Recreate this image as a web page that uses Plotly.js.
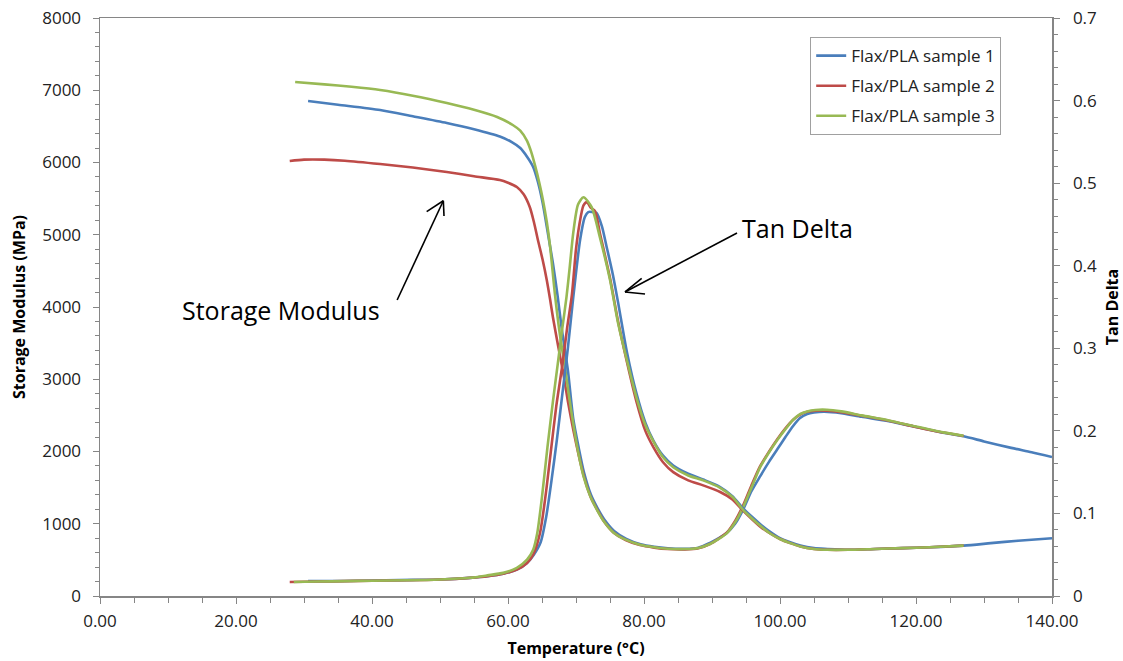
<!DOCTYPE html>
<html>
<head>
<meta charset="utf-8">
<script src="https://cdn.plot.ly/plotly-3.0.1.min.js"></script>
<style>
  html, body { margin: 0; padding: 0; background: #fff; }
  #chart { width: 1123px; height: 661px; }
</style>
</head>
<body>
<div id="chart"></div>
<script>
// ---------- DATA ----------
const seriesNames = ["Flax/PLA sample 1", "Flax/PLA sample 2", "Flax/PLA sample 3"];

// Storage modulus (MPa) — sample 1
const tempMod1 = [30.6, 35, 41.2, 46, 51, 55, 58.8, 60.5, 61.8, 62.8, 63.7, 64.4, 65.1, 65.9, 66.6, 67.3, 67.9, 68.8, 69.6, 70.4, 71.2, 72.2, 73.2, 74.3, 75.6, 77.4, 79.5, 81.5, 83.5, 86, 88, 89.7, 91, 92.2, 93.4, 94.6, 95.8, 97.1, 98.4, 99.6, 100.8, 101.9, 102.9, 104, 105, 106.5, 109, 112, 116, 120, 124, 127, 130, 134, 137, 140];
const mod1     = [6851, 6800, 6727, 6640, 6547, 6460, 6360, 6285, 6200, 6080, 5938, 5730, 5439, 5000, 4609, 4150, 3700, 3128, 2450, 2050, 1700, 1400, 1210, 1040, 900, 790, 715, 680, 660, 652, 668, 735, 800, 875, 1000, 1200, 1450, 1660, 1860, 2030, 2200, 2350, 2460, 2520, 2540, 2550, 2530, 2480, 2420, 2340, 2260, 2210, 2140, 2050, 1990, 1924];

// Storage modulus (MPa) — sample 2
const tempMod2 = [27.9, 30, 33, 36, 41.2, 46, 51, 55, 58.8, 60, 61.3, 62.3, 63.2, 63.8, 64.4, 65.1, 65.7, 66.2, 66.6, 67.4, 68.1, 68.8, 69.6, 70.4, 71.2, 72.2, 73.2, 74.2, 75.5, 77.3, 79.4, 81.5, 83.5, 86, 88, 89.7, 91, 92.2, 93.4, 94.6, 95.8, 97.1, 98.4, 99.6, 100.8, 101.9, 103, 104, 105.2, 106.9, 109, 112, 116, 120, 124, 127];
const mod2     = [6021, 6040, 6040, 6025, 5979, 5930, 5868, 5810, 5758, 5720, 5661, 5560, 5384, 5180, 4927, 4650, 4374, 4100, 3862, 3446, 3100, 2700, 2300, 1950, 1640, 1360, 1180, 1020, 880, 775, 705, 670, 650, 646, 662, 720, 795, 880, 1040, 1260, 1530, 1800, 2000, 2170, 2320, 2436, 2515, 2550, 2565, 2565, 2545, 2495, 2425, 2340, 2262, 2215];

// Storage modulus (MPa) — sample 3
const tempMod3 = [28.7, 33, 37, 41.2, 46, 51, 55, 58.4, 60.7, 61.8, 62.8, 63.4, 64.0, 64.6, 65.1, 65.7, 66.2, 66.9, 67.6, 68.4, 69.0, 69.6, 70.3, 71.1, 72.1, 73.1, 74.2, 75.5, 77.3, 79.4, 81.5, 83.5, 86, 88, 89.7, 91, 92.2, 93.4, 94.6, 95.8, 97.1, 98.4, 99.6, 100.8, 101.9, 103, 104, 105.2, 106.9, 109, 112, 116, 120, 124, 127];
const mod3     = [7114, 7082, 7048, 7003, 6925, 6824, 6730, 6630, 6519, 6440, 6300, 6150, 5950, 5720, 5500, 5180, 4830, 4180, 3640, 3150, 2750, 2380, 2000, 1660, 1380, 1190, 1020, 880, 780, 710, 675, 655, 650, 665, 720, 790, 870, 1020, 1232, 1500, 1786, 1990, 2159, 2310, 2436, 2520, 2555, 2575, 2578, 2555, 2500, 2430, 2345, 2265, 2218];

// Tan delta — sample 1
const tempTan1 = [30.6, 34, 38, 42, 46, 50, 54.4, 57, 59.3, 61.3, 62.8, 63.8, 64.8, 65.6, 66.4, 67.2, 68.0, 68.8, 69.6, 70.6, 71.3, 71.8, 72.4, 73.0, 73.8, 74.5, 75.4, 76.2, 77.5, 78.9, 80.2, 81.4, 82.8, 84.3, 86.5, 88.7, 91.2, 93, 94.6, 96, 97.1, 98.5, 100, 101.5, 103, 105, 107, 110, 114, 118, 122, 127, 131, 135, 140];
const tan1     = [0.018, 0.018, 0.0185, 0.019, 0.0195, 0.020, 0.022, 0.024, 0.027, 0.032, 0.040, 0.050, 0.065, 0.095, 0.14, 0.19, 0.245, 0.30, 0.362, 0.431, 0.459, 0.465, 0.465, 0.464, 0.448, 0.423, 0.39, 0.355, 0.295, 0.245, 0.210, 0.188, 0.170, 0.158, 0.148, 0.141, 0.132, 0.121, 0.106, 0.095, 0.087, 0.078, 0.070, 0.065, 0.061, 0.058, 0.057, 0.056, 0.057, 0.058, 0.059, 0.061, 0.064, 0.067, 0.070];

// Tan delta — sample 2
const tempTan2 = [27.9, 32, 36, 40, 45, 50, 54.4, 57, 59.3, 61.3, 62.8, 63.7, 64.7, 65.5, 66.3, 67.1, 68.0, 68.7, 69.4, 70.0, 70.5, 71.1, 71.6, 72.2, 72.8, 73.5, 75.0, 76.2, 77.5, 78.9, 80.2, 81.4, 82.8, 84.3, 86.5, 88.7, 91.2, 93, 94.6, 96, 97.1, 98.5, 100, 101.5, 103, 105, 107, 110, 114, 118, 122, 127];
const tan2     = [0.017, 0.0175, 0.018, 0.0185, 0.019, 0.020, 0.022, 0.024, 0.027, 0.032, 0.040, 0.050, 0.076, 0.12, 0.175, 0.23, 0.28, 0.325, 0.365, 0.42, 0.45, 0.473, 0.477, 0.470, 0.466, 0.440, 0.385, 0.332, 0.283, 0.235, 0.200, 0.180, 0.162, 0.150, 0.140, 0.134, 0.126, 0.117, 0.103, 0.092, 0.084, 0.076, 0.069, 0.064, 0.060, 0.057, 0.056, 0.056, 0.057, 0.058, 0.059, 0.061];

// Tan delta — sample 3
const tempTan3 = [28.5, 32, 36, 40, 45, 50, 54.4, 57, 59.3, 61.3, 62.8, 63.7, 64.3, 65.0, 65.8, 66.6, 67.3, 68.0, 68.6, 69.1, 69.6, 70.3, 71.1, 72.3, 73.5, 75.0, 76.2, 77.5, 78.9, 80.2, 81.4, 82.8, 84.3, 86.5, 88.7, 91.2, 93, 94.6, 96, 97.1, 98.5, 100, 101.5, 103, 105, 107, 110, 114, 118, 122, 127];
const tan3     = [0.017, 0.0175, 0.018, 0.0185, 0.019, 0.020, 0.022, 0.025, 0.028, 0.034, 0.044, 0.056, 0.076, 0.12, 0.18, 0.235, 0.28, 0.325, 0.362, 0.40, 0.44, 0.474, 0.483, 0.471, 0.435, 0.383, 0.33, 0.285, 0.240, 0.207, 0.187, 0.168, 0.156, 0.146, 0.140, 0.131, 0.120, 0.104, 0.093, 0.085, 0.076, 0.069, 0.064, 0.060, 0.057, 0.056, 0.056, 0.057, 0.058, 0.059, 0.061];

// Axis tick values / labels
const xTicks = [0, 20, 40, 60, 80, 100, 120, 140];
const xTickLabels = xTicks.map(v => v.toFixed(2));
const yLeftTicks = [0, 1000, 2000, 3000, 4000, 5000, 6000, 7000, 8000];
const yRightTicks = [0, 0.1, 0.2, 0.3, 0.4, 0.5, 0.6, 0.7];
const yRightLabels = ["0", "0.1", "0.2", "0.3", "0.4", "0.5", "0.6", "0.7"];

// ---------- STYLE ----------
const colors = ["#4A7EBB", "#BE4B48", "#98B954"];
const FONT = "Open Sans, Liberation Sans, sans-serif";
const axisGrey = "#868686";

const modT = [tempMod1, tempMod2, tempMod3];
const modV = [mod1, mod2, mod3];
const tanT = [tempTan1, tempTan2, tempTan3];
const tanV = [tan1, tan2, tan3];

const traces = [];
for (let i = 0; i < 3; i++) {
  traces.push({
    x: modT[i], y: modV[i], type: "scatter", mode: "lines",
    name: seriesNames[i], legendgroup: "g" + i, showlegend: true,
    line: { color: colors[i], width: 2.6, shape: "spline", smoothing: 0.7 },
    yaxis: "y", hoverinfo: "skip"
  });
}
for (let i = 0; i < 3; i++) {
  traces.push({
    x: tanT[i], y: tanV[i], type: "scatter", mode: "lines",
    name: seriesNames[i], legendgroup: "g" + i, showlegend: false,
    line: { color: colors[i], width: 2.6, shape: "spline", smoothing: 0.7 },
    yaxis: "y2", hoverinfo: "skip"
  });
}

const arrowLine = { color: "#000", width: 1.6 };
const shapes = [
  // Storage Modulus arrow
  { type: "line", xref: "x", yref: "y", x0: 43.7, y0: 4097, x1: 50.49, y1: 5471, line: arrowLine },
  { type: "line", xref: "x", yref: "y", x0: 48.04, y0: 5319, x1: 50.49, y1: 5471, line: arrowLine },
  { type: "line", xref: "x", yref: "y", x0: 50.59, y0: 5260, x1: 50.49, y1: 5471, line: arrowLine },
  // Tan Delta arrow
  { type: "line", xref: "x", yref: "y", x0: 93.68, y0: 5024, x1: 77.21, y1: 4208, line: arrowLine },
  { type: "line", xref: "x", yref: "y", x0: 79.66, y0: 4397, x1: 77.21, y1: 4208, line: arrowLine },
  { type: "line", xref: "x", yref: "y", x0: 80.15, y0: 4180, x1: 77.21, y1: 4208, line: arrowLine }
];

const annotations = [
  { text: "Storage Modulus", xref: "x", yref: "y", x: 26.6, y: 3958, showarrow: false,
    font: { family: FONT, size: 25, color: "#000" }, xanchor: "center", yanchor: "middle" },
  { text: "Tan Delta", xref: "x", yref: "y", x: 102.5, y: 5093, showarrow: false,
    font: { family: FONT, size: 25, color: "#000" }, xanchor: "center", yanchor: "middle" }
];

const tickFont = { family: FONT, size: 17, color: "#222" };
const titleFont = { family: FONT, size: 16, color: "#000", weight: "bold" };

const layout = {
  width: 1123, height: 661,
  margin: { l: 100, r: 71, t: 18, b: 65, pad: 0 },
  paper_bgcolor: "#fff", plot_bgcolor: "#fff",
  showlegend: true,
  legend: {
    x: 0.746, y: 0.967, xanchor: "left", yanchor: "top",
    bordercolor: "#A0A0A0", borderwidth: 1, bgcolor: "#fff",
    font: { family: FONT, size: 17, color: "#222" },
    tracegroupgap: 5, traceorder: "grouped", itemwidth: 30
  },
  xaxis: {
    range: [0, 140], tickmode: "array", tickvals: xTicks, ticktext: xTickLabels,
    ticks: "outside", ticklen: 6, tickcolor: axisGrey, tickwidth: 1,
    minor: { dtick: 5, ticks: "outside", ticklen: 5, tickcolor: axisGrey, showgrid: false },
    showline: true, linecolor: axisGrey, linewidth: 1.5, mirror: true,
    showgrid: false, zeroline: false, tickfont: tickFont, ticklabelstandoff: 3,
    title: { text: "Temperature (°C)", font: titleFont, standoff: 12 }
  },
  yaxis: {
    range: [0, 8000], tickmode: "array", tickvals: yLeftTicks,
    ticks: "outside", ticklen: 6, tickcolor: axisGrey, tickwidth: 1,
    minor: { dtick: 200, ticks: "outside", ticklen: 4, tickcolor: axisGrey, showgrid: false },
    showline: true, linecolor: axisGrey, linewidth: 1.5,
    showgrid: false, zeroline: false, tickfont: tickFont, ticklabelstandoff: 8,
    title: { text: "Storage Modulus (MPa)", font: titleFont, standoff: 12 }
  },
  yaxis2: {
    range: [0, 0.7], overlaying: "y", side: "right", anchor: "x",
    tickmode: "array", tickvals: yRightTicks, ticktext: yRightLabels,
    ticks: "outside", ticklen: 6, tickcolor: axisGrey, tickwidth: 1,
    minor: { dtick: 0.02, ticks: "outside", ticklen: 4, tickcolor: axisGrey, showgrid: false },
    showline: true, linecolor: axisGrey, linewidth: 1.5,
    showgrid: false, zeroline: false, tickfont: tickFont, ticklabelstandoff: 10,
    title: { text: "Tan Delta", font: titleFont, standoff: 12 }
  },
  shapes: shapes,
  annotations: annotations
};

Plotly.newPlot("chart", traces, layout, { staticPlot: true, displayModeBar: false });
</script>
</body>
</html>
